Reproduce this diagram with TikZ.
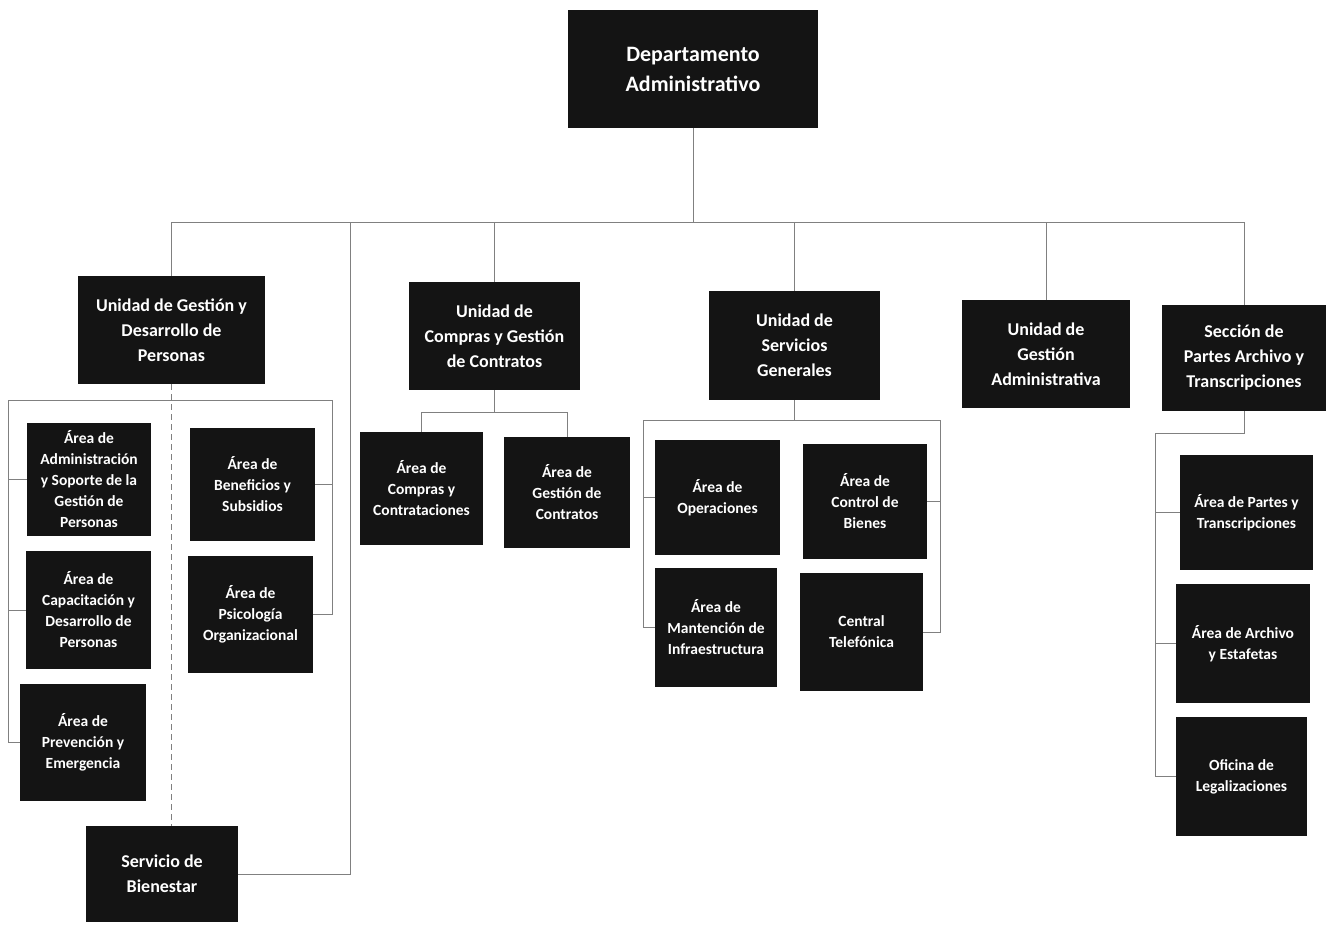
\documentclass[tikz,border=0pt]{standalone}
\usepackage{fontspec}
\setmainfont{Carlito}
\begin{document}
\begin{tikzpicture}[x=1pt,y=-1pt,
  box/.style={fill=black!92, text=white, align=center, inner sep=2pt, font=\bfseries},
  big/.style={box, font=\bfseries\fontsize{18}{25}\selectfont},
  small/.style={box, font=\bfseries\fontsize{15.5}{21}\selectfont},
  conn/.style={draw=black!50, line width=0.8pt},
  dconn/.style={conn, dash pattern=on 6pt off 4pt}]
\useasboundingbox (0,0) rectangle (1330,926);
\fill[white] (0,0) rectangle (1330,926);
% top
\node[box, font=\bfseries\fontsize{22}{30}\selectfont, minimum width=250pt, minimum height=118pt] (dep) at (693,69) {Departamento\\Administrativo};
% units
\node[big, minimum width=187pt, minimum height=108pt] (ugd) at (171.5,330) {Unidad de Gestión y\\Desarrollo de\\Personas};
\node[big, minimum width=171pt, minimum height=108pt] (ucg) at (494.5,336) {Unidad de\\Compras y Gestión\\de Contratos};
\node[big, minimum width=171pt, minimum height=109pt] (usg) at (794.5,345.5) {Unidad de\\Servicios\\Generales};
\node[big, minimum width=168pt, minimum height=108pt] (uga) at (1046,354) {Unidad de\\Gestión\\Administrativa};
\node[big, minimum width=164pt, minimum height=106pt] (spa) at (1244,358) {Sección de\\Partes Archivo y\\Transcripciones};
\node[big, minimum width=152pt, minimum height=96pt] (bien) at (162,874) {Servicio de\\Bienestar};
% left group
\node[small, minimum width=124pt, minimum height=113pt] (a1) at (89,479.5) {Área de\\Administración\\y Soporte de la\\Gestión de\\Personas};
\node[small, minimum width=125pt, minimum height=118pt] (a2) at (88.5,610) {Área de\\Capacitación y\\Desarrollo de\\Personas};
\node[small, minimum width=126pt, minimum height=117pt] (a3) at (83,742.5) {Área de\\Prevención y\\Emergencia};
\node[small, minimum width=125pt, minimum height=113pt] (a4) at (252.5,484.5) {Área de\\Beneficios y\\Subsidios};
\node[small, minimum width=125pt, minimum height=117pt] (a5) at (250.5,614.5) {Área de\\Psicología\\Organizacional};
% compras group
\node[small, minimum width=123pt, minimum height=113pt] (c1) at (421.5,488.5) {Área de\\Compras y\\Contrataciones};
\node[small, minimum width=126pt, minimum height=111pt] (c2) at (567,492.5) {Área de\\Gestión de\\Contratos};
% servicios group
\node[small, minimum width=125pt, minimum height=115pt] (s1) at (717.5,497.5) {Área de\\Operaciones};
\node[small, minimum width=124pt, minimum height=115pt] (s2) at (865,501.5) {Área de\\Control de\\Bienes};
\node[small, minimum width=122pt, minimum height=119pt] (s3) at (716,627.5) {Área de\\Mantención de\\Infraestructura};
\node[small, minimum width=123pt, minimum height=118pt] (s4) at (861.5,632) {Central\\Telefónica};
% partes group
\node[small, minimum width=133pt, minimum height=115pt] (p1) at (1246.5,512.5) {Área de Partes y\\Transcripciones};
\node[small, minimum width=134pt, minimum height=119pt] (p2) at (1243,643.5) {Área de Archivo\\y Estafetas};
\node[small, minimum width=131pt, minimum height=119pt] (p3) at (1241.5,776.5) {Oficina de\\Legalizaciones};
% coordinates
\coordinate (bus) at (693,222);
\coordinate (busb) at (350,222);
\coordinate (lgl) at (8,400);
\coordinate (lgr) at (332,400);
\coordinate (cbar) at (495,412);
\coordinate (sl) at (643,420);
\coordinate (sr) at (940,420);
\coordinate (pbar) at (1155,433);
% main connectors
\draw[conn] (dep.south) -- (bus);
\draw[conn] (ugd.north |- bus) -- (spa.north |- bus);
\draw[conn] (ugd.north) -- (ugd.north |- bus);
\draw[conn] (ucg.north) -- (ucg.north |- bus);
\draw[conn] (usg.north) -- (usg.north |- bus);
\draw[conn] (uga.north) -- (uga.north |- bus);
\draw[conn] (spa.north) -- (spa.north |- bus);
\draw[conn] (busb) |- (bien.east);
% left group
\draw[dconn] (ugd.south) -- (ugd.south |- bien.north);
\draw[conn] (lgl) -- (lgr);
\draw[conn] (lgl) |- (a1.west);
\draw[conn] (lgl) |- (a2.west);
\draw[conn] (lgl) |- (a3.west);
\draw[conn] (lgr) |- (a4.east);
\draw[conn] (lgr) |- (a5.east);
% compras
\draw[conn] (ucg.south) -- (ucg.south |- cbar);
\draw[conn] (c1.north) -- (c1.north |- cbar) -- (c2.north |- cbar) -- (c2.north);
% servicios
\draw[conn] (usg.south) -- (usg.south |- sl);
\draw[conn] (sl) -- (sr);
\draw[conn] (sl) |- (s1.west);
\draw[conn] (sl) |- (s3.west);
\draw[conn] (sr) |- (s2.east);
\draw[conn] (sr) |- (s4.east);
% partes
\draw[conn] (spa.south) |- (pbar);
\draw[conn] (pbar) |- (p1.west);
\draw[conn] (pbar) |- (p2.west);
\draw[conn] (pbar) |- (p3.west);
\end{tikzpicture}
\end{document}
